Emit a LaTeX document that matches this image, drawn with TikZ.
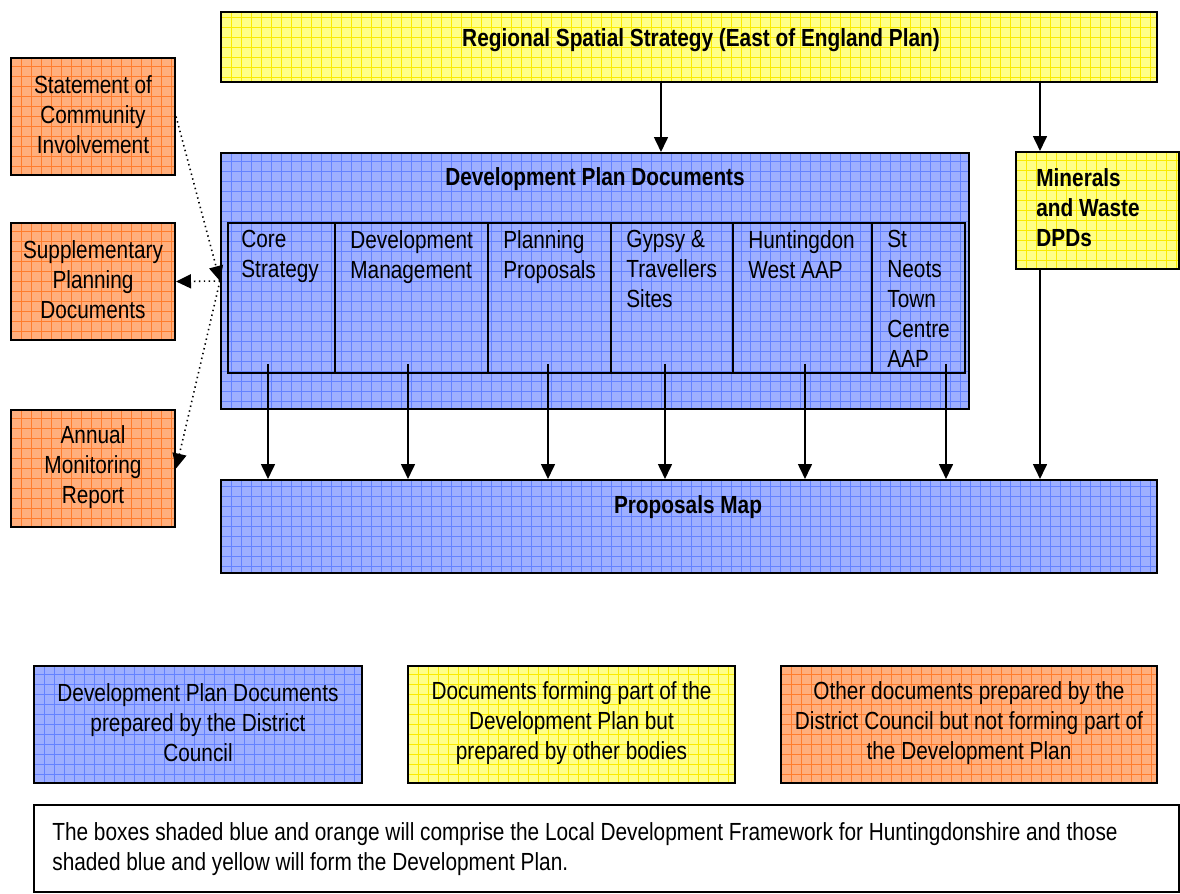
\documentclass[tikz,border=0pt]{standalone}
\usepackage{fontspec}
\setmainfont{Liberation Sans}[FakeStretch=0.84]
\usetikzlibrary{arrows.meta, positioning, fit}
\usepackage{xcolor}

\definecolor{bluefill}{RGB}{158,175,255}
\definecolor{blueline}{RGB}{100,130,255}
\definecolor{yelfill}{RGB}{255,255,135}
\definecolor{yelline}{RGB}{250,235,0}
\definecolor{orfill}{RGB}{255,175,125}
\definecolor{orline}{RGB}{255,125,45}
\newcommand{\pxu}{0.02cm}

\tikzset{gridbox/.style 2 args={draw, line width=1.2pt, fill=#1,
  path picture={\draw[#2, line width=0.45pt, step=0.2cm]
    (path picture bounding box.south west) grid (path picture bounding box.north east);}}}

\begin{document}
\begin{tikzpicture}[x=0.02cm,y=-0.02cm,inner sep=0pt,
  font=\fontsize{14.1}{17}\selectfont]
    \tikzstyle{bluebox}=[gridbox={bluefill}{blueline}]
    \tikzstyle{yelbox}=[gridbox={yelfill}{yelline}]
    \tikzstyle{orbox}=[gridbox={orfill}{orline}]
    \tikzstyle{boxtext}=[align=center, yshift=1.5*\pxu]
    \tikzstyle{cell}=[draw, line width=0.9pt]
    \tikzstyle{title}=[font=\fontsize{14.1}{17}\selectfont\bfseries]
    \tikzstyle{celltext}=[anchor=north west, align=left]
    \tikzstyle{arr}=[-{Triangle[length=8.5pt,width=8pt]}, line width=0.8pt]
    \tikzstyle{dotarr}=[arr, dotted, line width=0.9pt]

    \useasboundingbox (0,0) rectangle (1180,893);

    % top of the hierarchy
    \node[yelbox, fit={(221,12) (1157,82)}] (rss) {};
    \node[title] (rss-t) at (701,40) {Regional Spatial Strategy (East of England Plan)};
    \node[yelbox, fit={(1016,152) (1179,269)}] (mw) {};
    \node[title, celltext] (mw-t) at (1036,168) {Minerals\\and Waste\\DPDs};

    % development plan documents
    \node[bluebox, fit={(221,153) (969,409)}] (dpd) {};
    \node[title] (dpd-t) at (595,179) {Development Plan Documents};
    \node[cell, fit={(228,223) (335,373)}] (core) {};
    \node[cell, fit={(335,223) (488,373)}] (devm) {};
    \node[cell, fit={(488,223) (611,373)}] (plan) {};
    \node[cell, fit={(611,223) (733,373)}] (gyp) {};
    \node[cell, fit={(733,223) (872,373)}] (hunt) {};
    \node[cell, fit={(872,223) (965,373)}] (stn) {};
    \node[celltext] (core-t) at (241,230) {Core\\Strategy};
    \node[celltext] (devm-t) at (350,230) {Development\\Management};
    \node[celltext] (plan-t) at (503,230) {Planning\\Proposals};
    \node[celltext] (gyp-t) at (626,230) {Gypsy \&\\Travellers\\Sites};
    \node[celltext] (hunt-t) at (748,230) {Huntingdon\\West AAP};
    \node[celltext] (stn-t) at (887,230) {St\\Neots\\Town\\Centre\\AAP};

    \node[bluebox, fit={(221,480) (1157,573)}] (map) {};
    \node[title] (map-t) at (688,507) {Proposals Map};

    % other documents
    \node[orbox, fit={(11,58) (175,175)}] (sci) {};
    \node[orbox, fit={(11,223) (175,340)}] (spd) {};
    \node[orbox, fit={(11,410) (175,527)}] (amr) {};
    \node[boxtext] (sci-t) at (sci) {Statement of\\Community\\Involvement};
    \node[boxtext] (spd-t) at (spd) {Supplementary\\Planning\\Documents};
    \node[boxtext] (amr-t) at (amr) {Annual\\Monitoring\\Report};

    % key
    \node[bluebox, fit={(34,666) (362,783)}] (key-b) {};
    \node[yelbox, fit={(408,666) (735,783)}] (key-y) {};
    \node[orbox, fit={(781,666) (1157,783)}] (key-o) {};
    \node[boxtext] (key-b-t) at (key-b) {Development Plan Documents\\prepared by the District\\Council};
    \node[boxtext] (key-y-t) at (key-y) {Documents forming part of the\\Development Plan but\\prepared by other bodies};
    \node[boxtext] (key-o-t) at (key-o) {Other documents prepared by the\\District Council but not forming part of\\the Development Plan};
    \node[draw, line width=1.2pt, fit={(34,805) (1179,892)}] (note) {};
    \node[celltext] (note-t) at (52,822) {The boxes shaded blue and orange will comprise the Local Development Framework for Huntingdonshire and those\\shaded blue and yellow will form the Development Plan.};

    % links
    \coordinate (x1) at (661,0);
    \coordinate (x2) at (1040,0);
    \draw[arr] (rss.south -| x1) -- (dpd.north -| x1);
    \draw[arr] (rss.south -| x2) -- (mw.north -| x2);
    \draw[arr] (mw.south -| x2) -- (map.north -| x2);
    \foreach \c/\x in {core/268, devm/408, plan/548, gyp/665, hunt/805, stn/946} {
      \coordinate (s) at ([yshift=10*\pxu]\c.south);
      \coordinate (t) at (\x,0);
      \draw[arr] (s -| t) -- (map.north -| t);
    }
    \draw[dotarr] (sci.east) -- (dpd.west);
    \draw[dotarr] (dpd.west) -- (spd.east);
    \draw[dotarr] (dpd.west) -- (amr.east);

  \end{tikzpicture}
\end{document}
